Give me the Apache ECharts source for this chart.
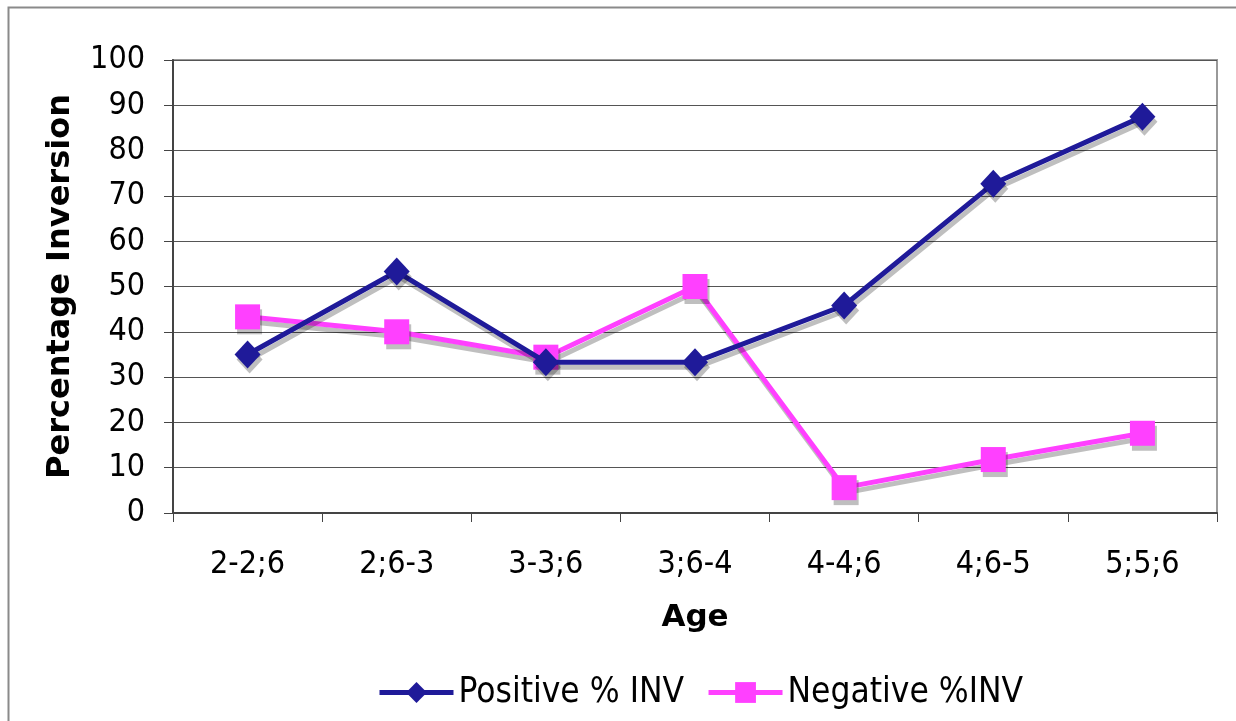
<!DOCTYPE html>
<html><head><meta charset="utf-8">
<script src="https://cdn.jsdelivr.net/npm/echarts@6/dist/echarts.min.js"></script>
<style>html,body{margin:0;padding:0;background:#fff}#c{width:1236px;height:721px}</style>
</head><body><div id="c"></div>
<script>
const categories = ['2-2;6','2;6-3','3-3;6','3;6-4','4-4;6','4;6-5','5;5;6'];
const positive = [35, 53.3, 33.3, 33.3, 45.8, 72.7, 87.5];
const negative = [43.3, 40, 34.4, 50, 5.6, 11.8, 17.6];
const yTicks = {min: 0, max: 100, interval: 10};

const font = '"DejaVu Sans Condensed", "DejaVu Sans", Verdana, sans-serif';
const boldFont = '"DejaVu Sans", Verdana, sans-serif';
const chart = echarts.init(document.getElementById('c'), null, {renderer: 'canvas'});
const shadow = {shadowColor: 'rgba(0,0,0,0.25)', shadowBlur: 0, shadowOffsetX: 2, shadowOffsetY: 5};
chart.setOption({
  animation: false,
  backgroundColor: '#fff',
  graphic: [{type: 'rect', shape: {x: 8.5, y: 7.5, width: 1240, height: 730}, style: {fill: 'none', stroke: '#8a8a8a', lineWidth: 2}, silent: true}],
  grid: {left: 173, right: 19, top: 60, bottom: 208, show: true, borderColor: '#999', borderWidth: 2},
  legend: {
    bottom: 6, left: 372, itemWidth: 74, itemHeight: 26, itemGap: 22,
    lineStyle: {width: 5},
    textStyle: {fontFamily: font, fontSize: 35, color: '#000', padding: [0, 0, 0, 0]},
    data: ['Positive % INV', 'Negative %INV']
  },
  xAxis: {
    type: 'category', data: categories, boundaryGap: true,
    name: 'Age', nameLocation: 'middle', nameGap: 89,
    nameTextStyle: {fontFamily: boldFont, fontSize: 31, fontWeight: 'bold', color: '#000'},
    axisLine: {lineStyle: {color: '#444', width: 2}},
    axisTick: {show: true, length: 9, lineStyle: {color: '#444', width: 1}},
    axisLabel: {fontFamily: font, fontSize: 32, color: '#000', margin: 36}
  },
  yAxis: {
    type: 'value', min: yTicks.min, max: yTicks.max, interval: yTicks.interval,
    name: 'Percentage Inversion', nameLocation: 'middle', nameGap: 96,
    nameTextStyle: {fontFamily: boldFont, fontSize: 32, fontWeight: 'bold', color: '#000'},
    axisLine: {show: true, lineStyle: {color: '#444', width: 2}},
    axisTick: {show: true, length: 9, lineStyle: {color: '#444', width: 1}},
    axisLabel: {fontFamily: font, fontSize: 32, color: '#000', margin: 28},
    splitLine: {lineStyle: {color: '#555', width: 1}}
  },
  series: [
    {
      name: 'Positive % INV', type: 'line', data: positive,
      symbol: 'diamond', symbolSize: [26, 28],
      lineStyle: Object.assign({color: '#1f1a99', width: 5}, shadow),
      itemStyle: Object.assign({color: '#1f1a99'}, shadow),
      z: 3
    },
    {
      name: 'Negative %INV', type: 'line', data: negative,
      symbol: 'rect', symbolSize: 25,
      lineStyle: Object.assign({color: '#ff40ff', width: 5}, shadow),
      itemStyle: Object.assign({color: '#ff40ff'}, shadow),
      z: 2
    }
  ]
});
</script></body></html>
